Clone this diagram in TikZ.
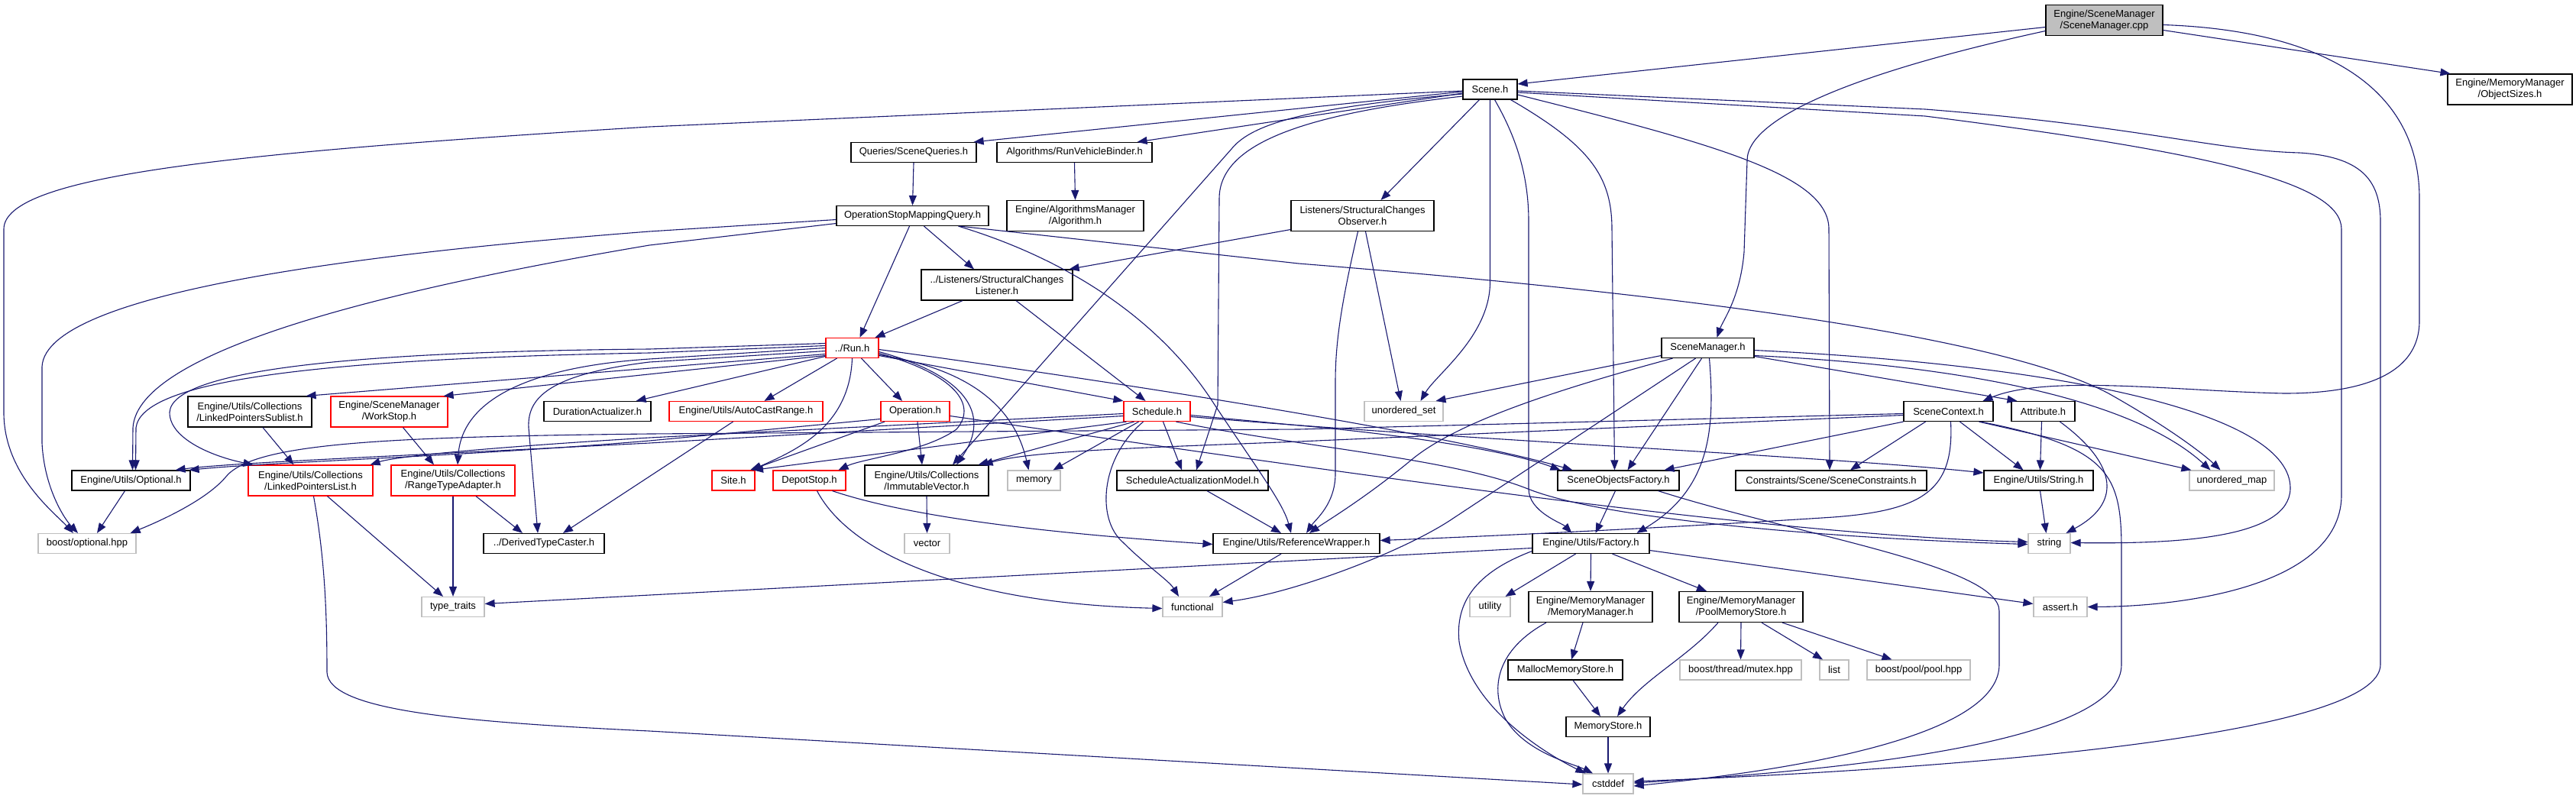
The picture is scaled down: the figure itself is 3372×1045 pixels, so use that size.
\documentclass[tikz,border=0pt]{standalone}
\usepackage{fontspec}
\setmainfont{Liberation Sans}
\usetikzlibrary{arrows.meta}
\definecolor{edgec}{HTML}{191970}
\definecolor{lgray}{HTML}{BFBFBF}
\begin{document}
\begin{tikzpicture}[x=1pt,y=-1pt,
 nd/.style={draw=black, line width=1.2pt, fill=white, inner sep=0pt, minimum height=26pt, align=center, font=\fontsize{13}{15}\selectfont},
 two/.style={minimum height=40pt},
 sys/.style={nd, draw=lgray},
 trunc/.style={nd, draw=red},
 dep/.style={draw=edgec, line width=1.1pt, -{Triangle[length=13pt,width=10pt]}}
]
\fill[white] (0,0) rectangle (3372,1045);
\useasboundingbox (0,0) rectangle (3372,1045);

% ---------------- nodes ----------------
\node[nd, two, fill=lgray, minimum width=153pt] (cpp) at (2754.5,26.5) {Engine/SceneManager\\/SceneManager.cpp};
\node[nd, two, minimum width=163pt] (objsizes) at (3285.5,117) {Engine/MemoryManager\\/ObjectSizes.h};
\node[nd, minimum width=71pt] (scene) at (1950.5,117) {Scene.h};
\node[nd, minimum width=164pt] (queries) at (1196,199.5) {Queries/SceneQueries.h};
\node[nd, minimum width=203pt] (binder) at (1406.5,199.5) {Algorithms/RunVehicleBinder.h};
\node[nd, two, minimum width=179pt] (algorithm) at (1407.5,282.5) {Engine/AlgorithmsManager\\/Algorithm.h};
\node[nd, two, minimum width=187pt] (observer) at (1783.5,282.5) {Listeners/StructuralChanges\\Observer.h};
\node[nd, minimum width=199pt] (opsmq) at (1194.5,282.5) {OperationStopMappingQuery.h};
\node[nd, two, minimum width=198pt] (listener) at (1305,373) {../Listeners/StructuralChanges\\Listener.h};
\node[trunc, minimum width=69pt] (run) at (1115.5,455.5) {../Run.h};
\node[nd, minimum width=121pt] (scenemgr) at (2235.5,455.5) {SceneManager.h};
\node[nd, two, minimum width=162pt] (sublist) at (327,539) {Engine/Utils/Collections\\/LinkedPointersSublist.h};
\node[trunc, two, minimum width=153pt] (workstop) at (509.5,539) {Engine/SceneManager\\/WorkStop.h};
\node[nd, minimum width=140pt] (duration) at (782,538.5) {DurationActualizer.h};
\node[trunc, minimum width=201pt] (autocast) at (976.5,538.5) {Engine/Utils/AutoCastRange.h};
\node[trunc, minimum width=90pt] (operation) at (1198,538.5) {Operation.h};
\node[trunc, minimum width=87pt] (schedule) at (1514.5,538.5) {Schedule.h};
\node[sys, minimum width=103pt] (uset) at (1837.5,538.5) {unordered\_set};
\node[nd, minimum width=117pt] (scenecontext) at (2550.5,538.5) {SceneContext.h};
\node[nd, minimum width=83pt] (attribute) at (2674.5,538.5) {Attribute.h};
\node[nd, minimum width=155pt] (optional) at (171.5,629) {Engine/Utils/Optional.h};
\node[trunc, two, minimum width=163pt] (llist) at (406.5,629) {Engine/Utils/Collections\\/LinkedPointersList.h};
\node[trunc, two, minimum width=162pt] (rta) at (593,629) {Engine/Utils/Collections\\/RangeTypeAdapter.h};
\node[trunc, minimum width=56pt] (site) at (960,629) {Site.h};
\node[trunc, minimum width=95pt] (depot) at (1059.5,629) {DepotStop.h};
\node[nd, two, minimum width=162pt] (immvec) at (1213,629) {Engine/Utils/Collections\\/ImmutableVector.h};
\node[sys, minimum width=69pt] (memory) at (1353.5,629) {memory};
\node[nd, minimum width=198pt] (sam) at (1561,629) {ScheduleActualizationModel.h};
\node[nd, minimum width=159pt] (sof) at (2118.5,629) {SceneObjectsFactory.h};
\node[nd, minimum width=250pt] (constraints) at (2397,629) {Constraints/Scene/SceneConstraints.h};
\node[nd, minimum width=143pt] (stringh) at (2668.5,629) {Engine/Utils/String.h};
\node[sys, minimum width=111pt] (umap) at (2921.5,629) {unordered\_map};
\node[sys, minimum width=128pt] (boostopt) at (114,711.5) {boost/optional.hpp};
\node[nd, minimum width=158pt] (dtc) at (712,711.5) {../DerivedTypeCaster.h};
\node[sys, minimum width=59pt] (vector) at (1213.5,711.5) {vector};
\node[nd, minimum width=218pt] (refwrap) at (1697,711.5) {Engine/Utils/ReferenceWrapper.h};
\node[nd, minimum width=153pt] (factory) at (2082.5,711.5) {Engine/Utils/Factory.h};
\node[sys, minimum width=55pt] (string) at (2682.5,711.5) {string};
\node[sys, minimum width=82pt] (ttraits) at (593,794.5) {type\_traits};
\node[sys, minimum width=78pt] (functional) at (1561,794.5) {functional};
\node[sys, minimum width=53pt] (utility) at (1950.5,794.5) {utility};
\node[nd, two, minimum width=162pt] (mm) at (2082,794.5) {Engine/MemoryManager\\/MemoryManager.h};
\node[nd, two, minimum width=162pt] (pool) at (2279,794.5) {Engine/MemoryManager\\/PoolMemoryStore.h};
\node[sys, minimum width=70pt] (assert) at (2697,794.5) {assert.h};
\node[nd, minimum width=150pt] (malloc) at (2049,877) {MallocMemoryStore.h};
\node[sys, minimum width=159pt] (mutex) at (2278.5,877) {boost/thread/mutex.hpp};
\node[sys, minimum width=38pt] (list) at (2401,877) {list};
\node[sys, minimum width=135pt] (boostpool) at (2511.5,877) {boost/pool/pool.hpp};
\node[nd, minimum width=110pt] (memstore) at (2105,951.5) {MemoryStore.h};
\node[sys, minimum width=66pt] (cstddef) at (2105,1026) {cstddef};

% ---------------- edges ----------------
% SceneManager.cpp
\draw[dep] ([yshift=-9pt]cpp.west) -- ([yshift=7pt]scene.east);
\draw[dep] ([yshift=-14pt]cpp.west) .. controls (2450,90) and (2287,150) .. (2287,210) -- (2283,330) .. controls (2278,390) and (2255,420) .. ([xshift=12pt]scenemgr.north);
\draw[dep] ([yshift=-6pt]cpp.east) .. controls (3050,40) and (3167,120) .. (3167,260) -- (3167,420) .. controls (3167,500) and (3070,515) .. (2990,515) .. controls (2850,512) and (2680,490) .. ([xshift=45pt]scenecontext.north);
\draw[dep] ([yshift=-13pt]cpp.east) -- ([xshift=-78pt]objsizes.north);

% Scene.h
\draw[dep] ([yshift=-2pt]scene.west) -- (850,166) .. controls (300,200) and (5,230) .. (5,300) -- (5,540) .. controls (5,620) and (70,670) .. ([xshift=-18pt]boostopt.north);
\draw[dep] ([yshift=-3pt]scene.west) -- ([xshift=-4pt]queries.north east);
\draw[dep] ([yshift=-5pt]scene.west) -- ([xshift=-20pt]binder.north east);
\draw[dep] ([xshift=-14pt]scene.south) -- ([xshift=24pt]observer.north);
\draw[dep] ([yshift=-6pt]scene.west) .. controls (1720,140) and (1640,160) .. (1612,195) -- ([xshift=34pt]immvec.north);
\draw[dep] ([yshift=-9pt]scene.west) .. controls (1700,150) and (1596,190) .. (1596,260) -- (1594,530) -- ([xshift=5pt]sam.north);
\draw[dep] (scene.south) -- (1950.5,370) .. controls (1950,440) and (1880,490) .. ([xshift=22pt]uset.north);
\draw[dep] ([xshift=6pt]scene.south) .. controls (1985,180) and (2001,230) .. (2001,290) -- (2001,640) .. controls (2001,670) and (2045,685) .. ([xshift=-25pt]factory.north);
\draw[dep] ([xshift=27pt]scene.south) .. controls (2080,190) and (2110,230) .. (2110,300) -- ([xshift=-5pt]sof.north);
\draw[dep] ([yshift=-7pt]scene.east) .. controls (2250,190) and (2394,230) .. (2394,300) -- ([xshift=-2pt]constraints.north);
\draw[dep] ([yshift=-4pt]scene.east) -- (2520,152) .. controls (2900,200) and (3065,240) .. (3065,300) -- (3065,650) .. controls (3062,770) and (2850,794) .. (assert.east);
\draw[dep] ([yshift=-2pt]scene.east) -- (2520,143) .. controls (2800,165) and (2900,197) .. (3010,200) .. controls (3090,205) and (3116,235) .. (3116,290) -- (3116,870) .. controls (3116,960) and (2600,1005) .. ([yshift=3pt]cstddef.east);

% second level
\draw[dep] (queries.south) -- (opsmq.north);
\draw[dep] (binder.south) -- (algorithm.north);
\draw[dep] ([yshift=-18pt]observer.west) -- ([xshift=-5pt]listener.north east);
\draw[dep] ([xshift=4pt]observer.south) -- ([xshift=-4pt]uset.north);
\draw[dep] ([xshift=-6pt]observer.south) .. controls (1755,400) and (1748,450) .. (1748,500) -- (1748,620) .. controls (1748,660) and (1722,680) .. ([xshift=13pt]refwrap.north);

% OperationStopMappingQuery.h
\draw[dep] ([yshift=-5pt]opsmq.west) -- (850,303) .. controls (500,330) and (60,380) .. (55,480) -- (55,580) .. controls (58,640) and (85,680) .. ([xshift=-12pt]boostopt.north);
\draw[dep] ([yshift=-10pt]opsmq.west) -- (850,321) .. controls (500,380) and (180,460) .. (174,560) -- ([xshift=2pt]optional.north);
\draw[dep] ([xshift=-4pt]opsmq.south) -- ([xshift=10pt]run.north);
\draw[dep] ([xshift=15pt]opsmq.south) -- ([xshift=-30pt]listener.north);
\draw[dep] ([xshift=60pt]opsmq.south) .. controls (1400,340) and (1520,420) .. (1590,530) .. controls (1650,620) and (1680,660) .. ([xshift=-7pt]refwrap.north);
\draw[dep] ([xshift=62pt]opsmq.south) -- (1700,345) .. controls (2200,385) and (2620,440) .. (2760,515) .. controls (2840,560) and (2885,595) .. ([xshift=-15pt]umap.north);

% Listener
\draw[dep] ([xshift=-45pt]listener.south) -- ([xshift=30pt]run.north);
\draw[dep] ([xshift=25pt]listener.south) -- ([xshift=-15pt]schedule.north);

% Run.h
\draw[dep] ([yshift=3pt]run.west) -- (850,462) .. controls (400,470) and (185,500) .. (178,560) -- ([xshift=6pt]optional.north);
\draw[dep] ([yshift=6pt]run.west) -- (850,457) .. controls (500,460) and (225,480) .. (222,540) .. controls (222,575) and (280,598) .. ([xshift=-75pt]llist.north);
\draw[dep] ([yshift=-8pt]run.west) -- ([xshift=-8pt]sublist.north east);
\draw[dep] ([yshift=-10pt]run.west) -- ([xshift=-6pt]workstop.north east);
\draw[dep] ([yshift=-11pt]run.west) -- ([xshift=-20pt]duration.north east);
\draw[dep] ([xshift=-20pt]run.south) -- ([xshift=24pt]autocast.north);
\draw[dep] ([xshift=12pt]run.south) -- ([xshift=-17pt]operation.north);
\draw[dep] (run.south) .. controls (1112,560) and (1040,590) .. ([xshift=24pt]site.north);
\draw[dep] ([yshift=-5pt]run.east) .. controls (1260,490) and (1300,540) .. ([xshift=39pt]immvec.north);
\draw[dep] ([yshift=-7pt]run.east) .. controls (1250,490) and (1280,530) .. (1252,562) .. controls (1210,592) and (1130,600) .. ([xshift=38pt]depot.north);
\draw[dep] ([yshift=-9pt]run.east) .. controls (1250,480) and (1325,520) .. ([xshift=-7pt]memory.north);
\draw[dep] ([yshift=-10pt]run.east) -- (schedule.north west);
\draw[dep] ([yshift=-2pt]run.east) .. controls (1500,505) and (1900,570) .. ([xshift=-60pt]sof.north);
\draw[dep] (run.west) -- (850,470) .. controls (700,480) and (605,520) .. ([xshift=6pt]rta.north);
\draw[dep] ([yshift=-4pt]run.west) -- (850,474) .. controls (720,490) and (690,520) .. (692,560) -- ([xshift=-8pt]dtc.north);

% third level left
\draw[dep] ([xshift=17pt]sublist.south) -- ([xshift=-22pt]llist.north);
\draw[dep] ([xshift=18pt]workstop.south) -- ([xshift=-25pt]rta.north);
\draw[dep] ([xshift=-17pt]autocast.south) -- ([xshift=25pt]dtc.north);

% Operation.h
\draw[dep] ([yshift=-10pt]operation.west) -- (850,577) .. controls (600,598) and (350,605) .. ([xshift=-2pt]optional.north east);
\draw[dep] ([xshift=-40pt]operation.south) -- ([xshift=22pt]site.north);
\draw[dep] ([xshift=3pt]operation.south) -- ([xshift=-6pt]immvec.north);
\draw[dep] ([yshift=-6pt]operation.east) .. controls (1700,610) and (2300,700) .. ([yshift=2pt]string.west);

% Schedule.h
\draw[dep] ([yshift=-6pt]schedule.west) -- (850,580) .. controls (500,598) and (300,606) .. ([xshift=-20pt]optional.north east);
\draw[dep] ([yshift=-3pt]schedule.west) -- (850,573) .. controls (650,585) and (520,597) .. ([xshift=-4pt]llist.north east);
\draw[dep] ([xshift=-30pt]schedule.south) -- ([xshift=-14pt]immvec.north east);
\draw[dep] ([xshift=-40pt]schedule.south) -- ([xshift=26pt]site.north);
\draw[dep] ([xshift=-24pt]schedule.south) -- ([xshift=25pt]memory.north);
\draw[dep] ([xshift=8pt]schedule.south) -- ([xshift=-14pt]sam.north);
\draw[dep] ([xshift=-18pt]schedule.south) .. controls (1440,600) and (1435,680) .. (1470,710) .. controls (1500,740) and (1530,760) .. ([xshift=-18pt]functional.north);
\draw[dep] ([yshift=-5pt]schedule.east) -- (1690,556) .. controls (1850,570) and (1980,592) .. ([xshift=-76pt]sof.north);
\draw[dep] ([yshift=-7pt]schedule.east) .. controls (1900,575) and (2400,598) .. ([yshift=10pt]stringh.west);
\draw[dep] ([xshift=25pt]schedule.south) .. controls (1700,585) and (1900,600) .. (2000,640) .. controls (2100,680) and (2400,705) .. ([yshift=-1pt]string.west);

% SceneManager.h
\draw[dep] ([yshift=-10pt]scenemgr.west) -- ([xshift=42pt]uset.north);
\draw[dep] ([xshift=-46pt]scenemgr.south) .. controls (2000,520) and (1900,560) .. (1850,600) .. controls (1790,650) and (1740,680) .. ([xshift=17pt]refwrap.north);
\draw[dep] ([xshift=-16pt]scenemgr.south) -- (1900,680) .. controls (1840,720) and (1700,775) .. ([yshift=6pt]functional.east);
\draw[dep] ([xshift=-8pt]scenemgr.south) -- ([xshift=12pt]sof.north);
\draw[dep] ([xshift=2pt]scenemgr.south) .. controls (2245,560) and (2240,640) .. ([xshift=60pt]factory.north);
\draw[dep] ([yshift=-10pt]scenemgr.east) .. controls (2600,480) and (2800,530) .. ([xshift=-28pt]umap.north);
\draw[dep] ([yshift=-3pt]scenemgr.east) .. controls (2700,478) and (3000,540) .. (2998,640) .. controls (2996,705) and (2850,712) .. ([yshift=1pt]string.east);
\draw[dep] ([yshift=-11pt]scenemgr.east) -- ([xshift=-34pt]attribute.north);

% SceneContext.h
\draw[dep] ([yshift=-3pt]scenecontext.west) -- (1700,562) -- (850,568) .. controls (500,572) and (330,580) .. (295,625) .. controls (265,660) and (190,690) .. ([xshift=-8pt]boostopt.north east);
\draw[dep] ([yshift=-5pt]scenecontext.west) -- (1700,578) .. controls (1500,586) and (1350,590) .. ([xshift=-8pt]immvec.north east);
\draw[dep] (scenecontext.south west) -- ([xshift=60pt]sof.north);
\draw[dep] ([xshift=-30pt]scenecontext.south) -- ([xshift=25pt]constraints.north);
\draw[dep] ([xshift=15pt]scenecontext.south) -- ([xshift=-20pt]stringh.north);
\draw[dep] ([xshift=40pt]scenecontext.south) -- ([xshift=3pt]umap.north west);
\draw[dep] ([xshift=42pt]scenecontext.south) .. controls (2760,585) and (2777,620) .. (2777,720) -- (2777,870) .. controls (2777,960) and (2500,1003) .. ([yshift=1pt]cstddef.east);
\draw[dep] ([xshift=3pt]scenecontext.south) .. controls (2558,640) and (2520,668) .. (2400,677) .. controls (2200,690) and (1950,702) .. ([yshift=4pt]refwrap.east);

% Attribute / String
\draw[dep] ([xshift=-2pt]attribute.south) -- ([xshift=2pt]stringh.north);
\draw[dep] ([xshift=22pt]attribute.south) .. controls (2775,610) and (2775,660) .. ([xshift=22pt]string.north);
\draw[dep] ([xshift=2pt]stringh.south) -- ([xshift=-4pt]string.north);

% SceneObjectsFactory.h
\draw[dep] ([xshift=-4pt]sof.south) -- ([xshift=6pt]factory.north);
\draw[dep] ([xshift=52pt]sof.south) .. controls (2350,700) and (2617,740) .. (2617,800) -- (2617,870) .. controls (2617,955) and (2400,1003) .. ([yshift=-3pt]cstddef.east);

% Factory.h
\draw[dep] ([yshift=-6pt]factory.west) -- ([yshift=4pt]ttraits.east);
\draw[dep] ([xshift=-20pt]factory.south) -- ([xshift=20pt]utility.north);
\draw[dep] (factory.south) -- (mm.north);
\draw[dep] ([xshift=28pt]factory.south) -- ([xshift=-45pt]pool.north);
\draw[dep] ([yshift=-10pt]factory.west) .. controls (1930,750) and (1905,790) .. (1910,840) .. controls (1925,930) and (2030,990) .. ([xshift=4pt]cstddef.north west);
\draw[dep] ([yshift=-9pt]factory.east) -- ([yshift=4pt]assert.west);

% memory manager
\draw[dep] ([xshift=-10pt]mm.south) -- ([xshift=8pt]malloc.north);
\draw[dep] ([xshift=-58pt]mm.south) .. controls (1960,850) and (1950,900) .. (1970,940) .. controls (1995,985) and (2060,1000) .. ([xshift=-20pt]cstddef.north);
\draw[dep] ([xshift=-30pt]pool.south) .. controls (2210,860) and (2150,890) .. ([xshift=12pt]memstore.north);
\draw[dep] (pool.south) -- (mutex.north);
\draw[dep] ([xshift=27pt]pool.south) -- ([xshift=-15pt]list.north);
\draw[dep] ([xshift=54pt]pool.south) -- ([xshift=-35pt]boostpool.north);
\draw[dep] ([xshift=10pt]malloc.south) -- ([xshift=-10pt]memstore.north);
\draw[dep] (memstore.south) -- (cstddef.north);

% lower left
\draw[dep] ([xshift=22pt]llist.south) -- ([xshift=-13pt]ttraits.north);
\draw[dep] ([xshift=4pt]llist.south) .. controls (425,730) and (428,800) .. (428,880) .. controls (430,930) and (600,945) .. (850,957) -- ([yshift=-1pt]cstddef.west);
\draw[dep] (rta.south) -- (ttraits.north);
\draw[dep] ([xshift=30pt]rta.south) -- ([xshift=-28pt]dtc.north);
\draw[dep] ([xshift=-8pt]optional.south) -- ([xshift=13pt]boostopt.north);
\draw[dep] (immvec.south) -- (vector.north);
\draw[dep] ([xshift=30pt]depot.south) .. controls (1200,680) and (1400,700) .. ([yshift=-1pt]refwrap.west);
\draw[dep] ([xshift=10pt]depot.south) .. controls (1110,720) and (1250,790) .. ([yshift=-2pt]functional.west);
\draw[dep] ([xshift=19pt]sam.south) -- ([xshift=-20pt]refwrap.north);
\draw[dep] ([xshift=-20pt]refwrap.south) -- ([xshift=22pt]functional.north);
\end{tikzpicture}
\end{document}
